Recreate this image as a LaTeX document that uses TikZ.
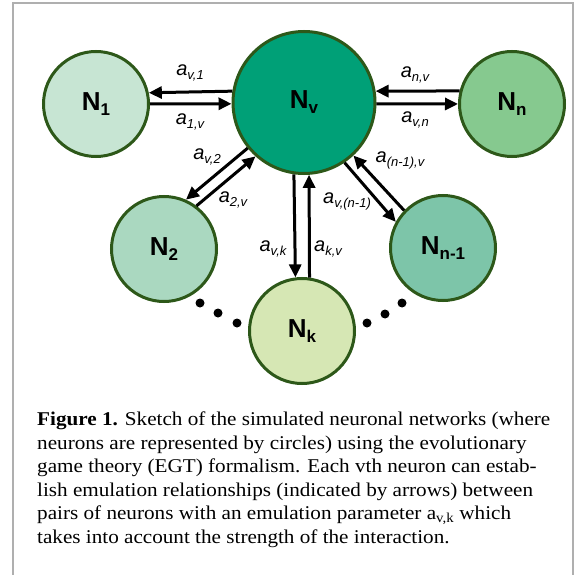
\documentclass[tikz,border=0pt]{standalone}
\usepackage{fontspec}
\setmainfont{Liberation Serif}
\newfontfamily\arialfont{Liberation Sans}
\newfontfamily\capfont[FakeStretch=1.085]{Liberation Serif}
\usetikzlibrary{arrows.meta}

\definecolor{rim}{RGB}{45,88,25}
\definecolor{frame}{RGB}{175,175,175}
\definecolor{fillone}{RGB}{199,229,211}
\definecolor{fillv}{RGB}{0,160,119}
\definecolor{filln}{RGB}{134,201,143}
\definecolor{filltwo}{RGB}{170,216,192}
\definecolor{fillnm}{RGB}{125,197,169}
\definecolor{fillk}{RGB}{214,231,180}

% neuron name N with bold subscript
\newcommand{\nname}[1]{{\arialfont\bfseries\fontsize{26}{26}\selectfont N\raisebox{-5pt}{\fontsize{17}{17}\selectfont #1}}}
% emulation parameter a with italic subscript
\newcommand{\apar}[1]{{\arialfont\itshape\fontsize{20}{20}\selectfont a\raisebox{-4pt}{\fontsize{13}{13}\selectfont #1}}}

\begin{document}
\begin{tikzpicture}[x=1pt,y=-1pt,
  neuron/.style={circle,draw=rim,line width=3pt,minimum size=105pt,inner sep=0pt},
  emul/.style={-{Triangle[length=13pt,width=12pt]},line width=3pt},
  lbl/.style={inner sep=0pt},
  capline/.style={anchor=base west,inner sep=0pt,font=\capfont\fontsize{19.5}{22}\selectfont}]

\useasboundingbox (0,0) rectangle (581,575);
\draw [frame, line width=1.5pt] (13,575) -- (13,3) -- (573,3) -- (573,575);

% neurons
\node [neuron, fill=fillv, minimum size=142pt] (Nv) at (304,102.5) {\nname{v}};
\node [neuron, fill=fillone] (N1) at (96,104) {\nname{1}};
\node [neuron, fill=filln] (Nn) at (512,104) {\nname{n}};
\node [neuron, fill=filltwo] (N2) at (164,249) {\nname{2}};
\node [neuron, fill=fillnm] (Nm) at (443,248) {\nname{n-1}};
\node [neuron, fill=fillk] (Nk) at (302,331) {\nname{k}};

% arrows
\draw [emul] (Nv.171.7) -- (N1.12.8);
\draw [emul] (N1.0) -- (Nv.181.2);
\draw [emul] (Nn.166.1) -- (Nv.9.1);
\draw [emul] (Nv.-1.2) -- (Nn.180);
\draw [emul] (Nv.219.8) -- (N2.66.1);
\draw [emul] (N2.53.5) -- (Nv.228.6);
\draw [emul] (Nv.262.9) -- (Nk.97.4);
\draw [emul] (Nk.82.6) -- (Nv.274);
\draw [emul] (Nm.136.5) -- (Nv.313.7);
\draw [emul] (Nv.304.5) -- (Nm.151.6);

% labels
\node [lbl] (av1) at (190,73) {\apar{v,1}};
\node [lbl] (a1v) at (190,122) {\apar{1,v}};
\node [lbl] (anv) at (415,75) {\apar{n,v}};
\node [lbl] (avn) at (415,120) {\apar{v,n}};
\node [lbl] (av2) at (207,157) {\apar{v,2}};
\node [lbl] (a2v) at (233,200) {\apar{2,v}};
\node [lbl] (amv) at (400,160) {\apar{(n-1),v}};
\node [lbl] (avm) at (347,201) {\apar{v,(n-1)}};
\node [lbl] (avk) at (273,249) {\apar{v,k}};
\node [lbl] (akv) at (328,249) {\apar{k,v}};

% dots
\foreach \x/\y in {200/303, 218/313, 237/323, 367/323, 385/314, 402/303}
  \fill (\x,\y) circle (4.5pt);

% caption
\node [capline] (cap1) at (37,425) {\textbf{Figure 1.} Sketch of the simulated neuronal networks (where};
\node [capline] (cap2) at (37,449) {neurons are represented by circles) using the evolutionary};
\node [capline] (cap3) at (37,472) {game theory (EGT) formalism. Each vth neuron can estab-};
\node [capline] (cap4) at (37,496) {lish emulation relationships (indicated by arrows) between};
\node [capline] (cap5) at (37,519) {pairs of neurons with an emulation parameter a\textsubscript{v,k} which};
\node [capline] (cap6) at (37,543) {takes into account the strength of the interaction.};

\end{tikzpicture}
\end{document}
